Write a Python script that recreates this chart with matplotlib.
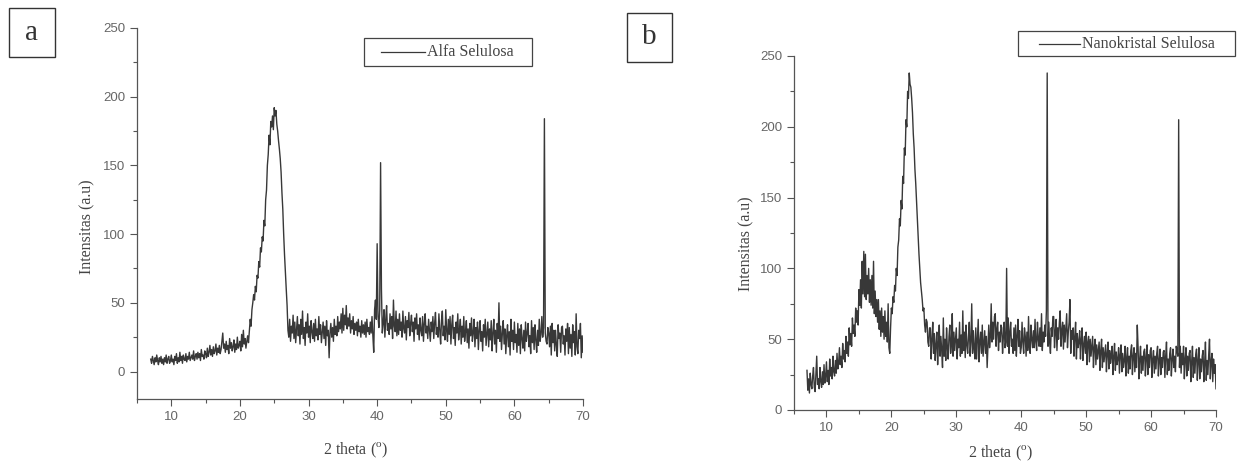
import numpy as np
import matplotlib.pyplot as plt
from matplotlib.patches import Rectangle
from matplotlib.lines import Line2D
from matplotlib.ticker import MultipleLocator

plt.rcParams['mathtext.fontset'] = 'custom'
plt.rcParams['mathtext.rm'] = 'Liberation Serif'

# 2 theta grid, 0.125 deg steps from 7 to 70
two_theta = np.arange(7.0, 70.001, 0.125)

# Alfa Selulosa intensities (8 per degree)
alfa = [
    9, 6, 11, 8, 5, 10, 7, 12,            # 7
    8, 5, 10, 7, 11, 6, 9, 5,             # 8
    10, 7, 12, 6, 9, 11, 6, 8,            # 9
    12, 7, 9, 5, 11, 8, 13, 6,            # 10
    10, 7, 14, 8, 11, 6, 12, 9,           # 11
    8, 13, 7, 11, 9, 14, 8, 10,           # 12
    12, 9, 15, 8, 11, 13, 9, 14,          # 13
    10, 13, 8, 16, 11, 12, 9, 15,         # 14
    13, 10, 17, 11, 14, 19, 12, 16,       # 15
    11, 18, 13, 15, 20, 12, 17, 14,       # 16
    19, 13, 16, 22, 28, 17, 20, 14,       # 17
    22, 16, 19, 13, 24, 17, 21, 15,       # 18
    18, 23, 14, 20, 16, 25, 17, 19,       # 19
    22, 15, 27, 18, 30, 20, 24, 17,       # 20
    22, 26, 21, 30, 38, 33, 45, 50,       # 21
    56, 52, 62, 58, 70, 68, 80, 76,       # 22
    90, 87, 98, 95, 110, 106, 125, 132,   # 23
    150, 158, 172, 165, 182, 178, 186, 176,  # 24
    192, 186, 190, 180, 175, 168, 162, 155,  # 25
    145, 130, 118, 100, 85, 72, 60, 48,   # 26
    30, 25, 38, 22, 33, 28, 41, 24,       # 27
    36, 21, 30, 40, 26, 34, 20, 38,       # 28
    27, 44, 24, 32, 19, 36, 28, 42,       # 29
    25, 33, 21, 37, 29, 24, 35, 22,       # 30
    38, 26, 31, 23, 40, 27, 34, 21,       # 31
    29, 36, 24, 33, 19, 37, 26, 30,       # 32
    10, 28, 35, 25, 32, 22, 38, 27,       # 33
    33, 26, 40, 29, 36, 31, 42, 28,       # 34
    46, 30, 41, 34, 48, 31, 39, 33,       # 35
    42, 28, 37, 31, 40, 27, 35, 30,       # 36
    36, 26, 38, 29, 33, 25, 37, 28,       # 37
    34, 27, 36, 25, 38, 29, 32, 27,       # 38
    36, 28, 40, 26, 14, 45, 52, 38,       # 39
    93, 40, 32, 45, 152, 60, 28, 35,      # 40
    45, 25, 38, 48, 30, 35, 27, 42,       # 41
    31, 40, 24, 52, 33, 29, 44, 26,       # 42
    38, 27, 42, 30, 36, 25, 44, 31,       # 43
    28, 40, 23, 37, 32, 43, 26, 35,       # 44
    41, 29, 36, 22, 39, 31, 42, 27,       # 45
    34, 23, 39, 30, 26, 40, 22, 35,       # 46
    42, 28, 33, 24, 38, 30, 22, 36,       # 47
    29, 40, 24, 35, 43, 27, 32, 25,       # 48
    42, 30, 20, 37, 44, 26, 33, 23,       # 49
    45, 30, 22, 38, 27, 40, 20, 34,       # 50
    41, 24, 32, 19, 36, 28, 42, 23,       # 51
    30, 38, 20, 33, 25, 40, 22, 29,       # 52
    37, 21, 31, 17, 35, 26, 39, 22,       # 53
    28, 38, 18, 32, 24, 36, 16, 30,       # 54
    37, 22, 29, 15, 34, 25, 38, 19,       # 55
    27, 36, 18, 31, 23, 37, 15, 28,       # 56
    38, 20, 30, 14, 35, 24, 50, 22,       # 57
    33, 16, 28, 37, 20, 31, 13, 26,       # 58
    34, 18, 29, 12, 38, 22, 30, 16,       # 59
    36, 21, 27, 14, 35, 19, 31, 13,       # 60
    34, 24, 17, 30, 15, 36, 22, 28,       # 61
    35, 18, 26, 13, 37, 21, 32, 16,       # 62
    34, 23, 14, 30, 19, 38, 22, 27,       # 63
    40, 25, 32, 184, 28, 22, 20, 32,      # 64
    28, 18, 33, 12, 35, 21, 30, 15,       # 65
    30, 19, 11, 34, 24, 28, 14, 32,       # 66
    33, 20, 26, 12, 31, 22, 35, 13,       # 67
    32, 17, 27, 11, 34, 21, 29, 12,       # 68
    42, 18, 13, 30, 24, 35, 10, 26,       # 69
    14,                                   # 70
]

# Nanokristal Selulosa intensities
nano = [
    28, 14, 22, 12, 26, 18, 15, 24,       # 7
    30, 16, 13, 25, 38, 18, 22, 15,       # 8
    30, 20, 16, 27, 18, 32, 19, 24,       # 9
    34, 20, 28, 18, 36, 24, 30, 22,       # 10
    38, 27, 24, 35, 26, 40, 29, 33,       # 11
    44, 32, 38, 30, 47, 36, 42, 34,       # 12
    52, 40, 48, 38, 58, 46, 54, 45,       # 13
    65, 54, 60, 52, 72, 62, 70, 60,       # 14
    85, 74, 92, 72, 105, 82, 112, 80,     # 15
    110, 78, 95, 82, 100, 76, 92, 74,     # 16
    95, 72, 105, 68, 84, 66, 78, 62,      # 17
    78, 57, 70, 52, 72, 55, 66, 50,       # 18
    70, 52, 62, 48, 75, 44, 40, 58,       # 19
    72, 68, 80, 76, 88, 84, 100, 95,      # 20
    115, 120, 135, 130, 148, 142, 165, 160,  # 21
    185, 180, 205, 200, 225, 220, 238, 230,  # 22
    228, 220, 210, 195, 185, 170, 160, 148,  # 23
    135, 122, 110, 100, 90, 84, 78, 70,   # 24
    72, 60, 55, 64, 62, 48, 45, 58,       # 25
    58, 36, 50, 62, 40, 54, 35, 46,       # 26
    55, 32, 48, 60, 38, 52, 42, 30,       # 27
    65, 38, 50, 35, 58, 44, 36, 52,       # 28
    60, 40, 47, 68, 38, 55, 42, 50,       # 29
    58, 36, 50, 44, 62, 38, 53, 40,       # 30
    70, 42, 55, 37, 60, 46, 40, 52,       # 31
    62, 38, 48, 75, 40, 56, 44, 36,       # 32
    58, 36, 50, 64, 34, 48, 55, 40,       # 33
    60, 38, 47, 56, 40, 52, 30, 45,       # 34
    60, 44, 52, 75, 48, 62, 50, 66,       # 35
    68, 45, 57, 62, 42, 55, 48, 60,       # 36
    58, 40, 52, 62, 44, 48, 100, 45,      # 37
    65, 40, 55, 62, 45, 50, 40, 58,       # 38
    42, 60, 38, 52, 64, 45, 56, 40,       # 39
    44, 62, 48, 40, 58, 52, 38, 55,       # 40
    42, 66, 45, 40, 60, 50, 44, 56,       # 41
    44, 64, 48, 42, 62, 50, 45, 58,       # 42
    45, 68, 42, 55, 48, 60, 52, 70,       # 43
    238, 45, 62, 48, 40, 58, 52, 66,      # 44
    66, 44, 55, 64, 42, 58, 50, 62,       # 45
    70, 45, 56, 62, 43, 60, 48, 58,       # 46
    68, 44, 55, 62, 78, 40, 56, 50,       # 47
    58, 38, 52, 62, 36, 54, 44, 48,       # 48
    56, 36, 50, 58, 35, 46, 52, 40,       # 49
    55, 32, 48, 52, 34, 50, 38, 45,       # 50
    52, 30, 44, 50, 32, 46, 36, 42,       # 51
    48, 28, 42, 50, 30, 44, 34, 40,       # 52
    46, 27, 40, 48, 29, 42, 33, 38,       # 53
    45, 25, 38, 47, 28, 41, 32, 36,       # 54
    44, 26, 39, 46, 27, 40, 30, 35,       # 55
    45, 24, 37, 44, 26, 38, 29, 42,       # 56
    46, 25, 38, 44, 27, 40, 30, 60,       # 57
    44, 22, 36, 45, 26, 38, 28, 41,       # 58
    43, 24, 37, 46, 25, 39, 30, 42,       # 59
    44, 23, 36, 42, 26, 38, 29, 40,       # 60
    45, 24, 35, 43, 25, 37, 30, 41,       # 61
    42, 23, 38, 48, 25, 36, 28, 40,       # 62
    44, 24, 36, 43, 30, 38, 27, 45,       # 63
    42, 38, 205, 30, 45, 26, 40, 32,      # 64
    45, 22, 36, 44, 24, 38, 28, 40,       # 65
    42, 20, 34, 45, 23, 37, 26, 39,       # 66
    43, 21, 35, 44, 22, 36, 27, 38,       # 67
    42, 20, 33, 48, 21, 35, 25, 39,       # 68
    50, 22, 34, 40, 20, 36, 26, 32,       # 69
    15,                                   # 70
]

line_col = '#383838'
spine_col = '#555555'
tick_col = '#666666'
txt_col = '#444444'
serif = 'Liberation Serif'
W, H = 1240, 468

fig = plt.figure(figsize=(12.4, 4.68), dpi=100)


def px_axes(l, t, r, b):
    return fig.add_axes([l / W, 1 - b / H, (r - l) / W, (b - t) / H])


def fx(x):
    return x / W


def fy(y):
    return 1 - y / H


def style(ax, ylim):
    for s in ['top', 'right']:
        ax.spines[s].set_visible(False)
    for s in ['left', 'bottom']:
        ax.spines[s].set_color(spine_col)
        ax.spines[s].set_linewidth(0.9)
    ax.set_xlim(5, 70)
    ax.set_ylim(*ylim)
    ax.xaxis.set_major_locator(MultipleLocator(10))
    ax.xaxis.set_minor_locator(MultipleLocator(5))
    ax.yaxis.set_major_locator(MultipleLocator(50))
    ax.yaxis.set_minor_locator(MultipleLocator(25))
    ax.tick_params(which='major', direction='out', length=5, width=0.8,
                   color=spine_col, labelcolor=tick_col, labelsize=9.5)
    ax.tick_params(which='minor', direction='out', length=3, width=0.8, color=spine_col)
    for lbl in ax.get_xticklabels() + ax.get_yticklabels():
        lbl.set_family('Liberation Sans')
    ax.patch.set_alpha(0)


# panel a
ax1 = px_axes(137, 28, 583, 399)
ax1.plot(two_theta, alfa, color=line_col, lw=1.0)
style(ax1, (-20, 250))

# panel b
ax2 = px_axes(794, 56, 1216, 410)
ax2.plot(two_theta, nano, color=line_col, lw=1.0)
style(ax2, (0, 250))

# axis labels
for x, y in [(87, 227), (746, 244)]:
    fig.text(fx(x), fy(y), 'Intensitas (a.u)', rotation=90, ha='center', va='center',
             family=serif, fontsize=11.5, color=txt_col)
for x, y in [(356, 450), (1001, 453)]:
    fig.text(fx(x), fy(y), r'2 theta ($^{\mathrm{o}}$)', ha='center', va='center',
             family=serif, fontsize=11.5, color=txt_col)

# legends (box, sample line, text)
legends = [
    ((364, 38, 532, 66), (381, 425), 'Alfa Selulosa'),
    ((1018, 31, 1235, 56), (1039, 1080), 'Nanokristal Selulosa'),
]
for (l, t, r, b), (x0, x1), name in legends:
    fig.patches.append(Rectangle((fx(l), fy(b)), fx(r - l), (b - t) / H,
                                 transform=fig.transFigure, fill=False,
                                 edgecolor='#444444', linewidth=0.9))
    ym = (t + b) / 2
    fig.lines.append(Line2D([fx(x0), fx(x1)], [fy(ym), fy(ym)],
                            transform=fig.transFigure, color=line_col, lw=0.9))
    fig.text(fx(x1 + 2), fy(ym), name, ha='left', va='center',
             family=serif, fontsize=11.5, color=txt_col)

# panel letters in boxes
for (l, t, r, b), letter in [((9, 8, 55, 57), 'a'), ((627, 13, 672, 62), 'b')]:
    fig.patches.append(Rectangle((fx(l), fy(b)), fx(r - l), (b - t) / H,
                                 transform=fig.transFigure, fill=False,
                                 edgecolor='#333333', linewidth=1.0))
    fig.text(fx((l + r) / 2), fy((t + b) / 2), letter, ha='center', va='center',
             family=serif, fontsize=21, color='#333333')

fig.savefig('out.png', dpi=100, facecolor='white')
